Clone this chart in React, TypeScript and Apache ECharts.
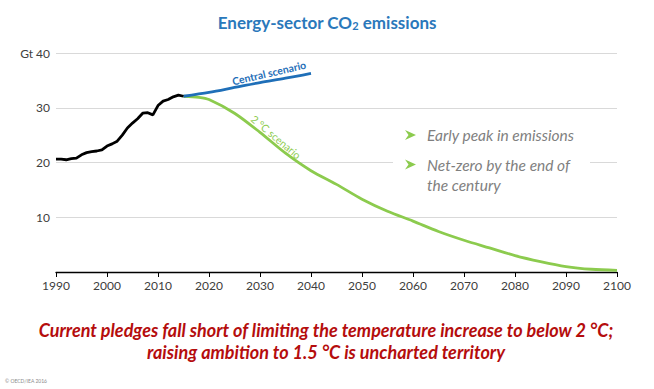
import React, { useEffect, useRef } from 'react';
import * as echarts from 'echarts';

const historyYears = [1990, 1991, 1992, 1993, 1994, 1995, 1996, 1997, 1998, 1999, 2000, 2001, 2002, 2003, 2004, 2005, 2006, 2007, 2008, 2009, 2010, 2011, 2012, 2013, 2014, 2015];
const historyValues = [20.6, 20.6, 20.5, 20.7, 20.8, 21.4, 21.8, 22.0, 22.1, 22.3, 23.0, 23.4, 23.9, 25.0, 26.3, 27.2, 28.0, 29.0, 29.1, 28.7, 30.4, 31.2, 31.5, 32.0, 32.3, 32.1];

const centralYears = [2015, 2020, 2025, 2030, 2035, 2040];
const centralValues = [32.1, 32.8, 33.7, 34.6, 35.4, 36.3];

const twoDegYears = [2015, 2018, 2020, 2025, 2030, 2035, 2040, 2045, 2050, 2055, 2060, 2065, 2070, 2075, 2080, 2085, 2090, 2095, 2100];
const twoDegValues = [32.1, 31.9, 31.5, 29.0, 25.5, 21.7, 18.5, 16.0, 13.3, 11.1, 9.3, 7.4, 5.8, 4.4, 3.0, 1.9, 1.0, 0.5, 0.3];

const titleText = 'Energy-sector CO';
const bullets = ['Early peak in emissions', 'Net-zero by the end of', 'the century'];
const footLines = [
  'Current pledges fall short of limiting the temperature increase to below 2 °C;',
  'raising ambition to 1.5 °C is uncharted territory',
];

const pairs = (xs: number[], ys: number[]) => xs.map((x, i) => [x, ys[i]]);

const arrow = (cy: number) => ({
  type: 'polygon',
  z: 11,
  shape: { points: [[405, cy - 5], [416, cy], [405, cy + 5], [408.5, cy]] },
  style: { fill: '#8ccb4e' },
});

export default function App() {
  const ref = useRef<HTMLDivElement>(null);
  useEffect(() => {
    document.body.style.margin = '0';
    const chart = echarts.init(ref.current!, null, { renderer: 'svg' });
    const font = 'Lato, "Open Sans", sans-serif';
    chart.setOption({
      animation: false,
      backgroundColor: '#ffffff',
      title: {
        text: `{a|${titleText}}{s|2}{a| emissions}`,
        left: 'center',
        top: 4,
        textStyle: {
          rich: {
            a: { fontFamily: font, fontWeight: 'bold', fontSize: 17, color: '#2a78bb', lineHeight: 22, verticalAlign: 'bottom' },
            s: { fontFamily: font, fontWeight: 'bold', fontSize: 11, color: '#2a78bb', lineHeight: 11, padding: [11, 0, 0, 0], verticalAlign: 'bottom' },
          },
        },
      },
      grid: { left: 56, right: 37, top: 53, bottom: 117, containLabel: false },
      xAxis: {
        type: 'value',
        min: 1990,
        max: 2100,
        interval: 10,
        axisLine: { show: true, lineStyle: { color: '#000', width: 1.3 } },
        axisTick: { show: true, length: 5, lineStyle: { color: '#000' } },
        axisLabel: { color: '#404040', fontFamily: font, fontSize: 12, margin: 7, formatter: (v: number) => String(v) },
        splitLine: { show: false },
      },
      yAxis: {
        type: 'value',
        min: 0,
        max: 40,
        interval: 10,
        axisLine: { show: false },
        axisTick: { show: false },
        axisLabel: {
          color: '#404040', fontFamily: font, fontSize: 12, margin: 6,
          formatter: (v: number) => (v === 0 ? '' : v === 40 ? 'Gt 40' : String(v)),
        },
        splitLine: { show: true, lineStyle: { color: '#d9d9d9', width: 1 } },
      },
      series: [
        {
          type: 'line', name: 'History', data: pairs(historyYears, historyValues),
          showSymbol: false, lineStyle: { color: '#000', width: 2.8 }, z: 5,
        },
        {
          type: 'line', name: 'Central scenario', data: pairs(centralYears, centralValues),
          showSymbol: false, smooth: 0.3, lineStyle: { color: '#1f6fb8', width: 2.8 }, z: 4,
        },
        {
          type: 'line', name: '2 °C scenario', data: pairs(twoDegYears, twoDegValues),
          showSymbol: false, smooth: 0.3, lineStyle: { color: '#8ccb4e', width: 2.8 }, z: 3,
        },
      ],
      graphic: [
        {
          type: 'text', x: 269, y: 73, rotation: (13 * Math.PI) / 180,
          style: { text: 'Central scenario', fill: '#1f6fb8', font: `bold 10.5px ${font}`, align: 'center', verticalAlign: 'middle' },
        },
        {
          type: 'text', x: 276, y: 137, rotation: (-40 * Math.PI) / 180,
          style: { text: '2 °C scenario', fill: '#8ccb4e', font: `10.5px ${font}`, align: 'center', verticalAlign: 'middle' },
        },
        { type: 'rect', shape: { x: 393, y: 120, width: 197, height: 76 }, style: { fill: '#ffffff' }, z: 10 },
        arrow(135),
        arrow(164.5),
        { type: 'text', x: 427, y: 135, z: 11, style: { text: bullets[0], fill: '#7f7f7f', font: `italic 15.5px ${font}`, verticalAlign: 'middle' } },
        { type: 'text', x: 427, y: 164.5, z: 11, style: { text: bullets[1], fill: '#7f7f7f', font: `italic 15.5px ${font}`, verticalAlign: 'middle' } },
        { type: 'text', x: 427, y: 185, z: 11, style: { text: bullets[2], fill: '#7f7f7f', font: `italic 15.5px ${font}`, verticalAlign: 'middle' } },
        { type: 'text', x: 326, y: 330, style: { text: footLines[0], fill: '#b50d0d', font: `italic bold 18px ${font}`, align: 'center', verticalAlign: 'middle' } },
        { type: 'text', x: 326, y: 352, style: { text: footLines[1], fill: '#b50d0d', font: `italic bold 18px ${font}`, align: 'center', verticalAlign: 'middle' } },
        { type: 'text', x: 5, y: 381, style: { text: '© OECD/IEA 2016', fill: '#8a8a8a', font: `5px ${font}`, verticalAlign: 'middle' } },
      ],
    });
    return () => chart.dispose();
  }, []);
  return <div ref={ref} style={{ width: 654, height: 389, position: 'absolute', left: 0, top: 0 }} />;
}
